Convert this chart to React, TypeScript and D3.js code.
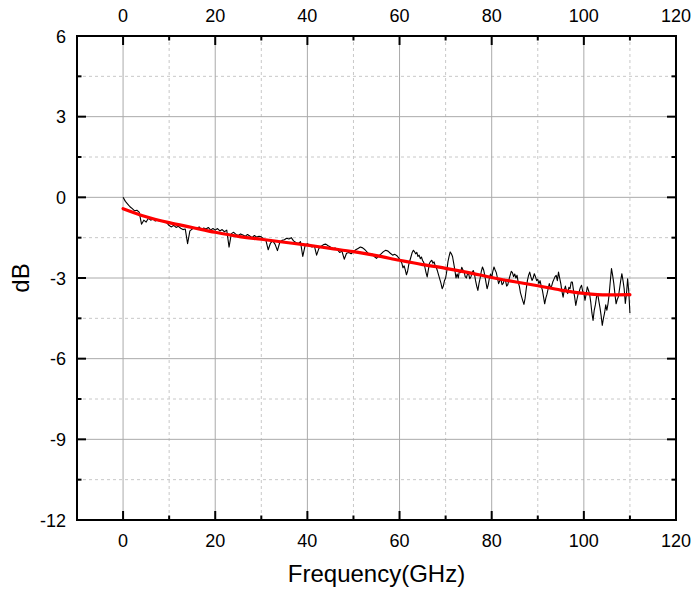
import React from "react";
import * as d3 from "d3";

const W = 694;
const H = 594;
const M = { left: 77, right: 694 - 676, top: 36, bottom: 594 - 520 };

const xMajorTicks = [0, 20, 40, 60, 80, 100, 120];
const xMinorTicks = [-10, 10, 30, 50, 70, 90, 110];
const yMajorTicks = [-12, -9, -6, -3, 0, 3, 6];
const yMinorTicks = [-10.5, -7.5, -4.5, -1.5, 1.5, 4.5];

// measured S21 (dB), 0 to 59.5 GHz every 0.5 GHz
const lowStart = 0;
const lowStep = 0.5;
const measuredLow = [
  0.0, -0.15, -0.25, -0.35, -0.42, -0.5, -0.48, -0.55, -1.0, -0.85,
  -0.92, -0.78, -0.85, -0.8, -0.88, -0.84, -0.9, -0.86, -0.92, -0.95,
  -1.05, -1.1, -1.04, -1.12, -1.08, -1.15, -1.2, -1.18, -1.72, -1.25,
  -1.18, -1.12, -1.16, -1.1, -1.2, -1.14, -1.18, -1.12, -1.22, -1.16,
  -1.22, -1.16, -1.25, -1.2, -1.28, -1.22, -1.85, -1.35, -1.3, -1.38,
  -1.42, -1.36, -1.4, -1.45, -1.38, -1.44, -1.5, -1.42, -1.48, -1.45,
  -1.47, -1.55, -1.6, -1.95, -1.7, -1.62, -1.75, -1.98, -1.68, -1.6,
  -1.58, -1.52, -1.55, -1.5, -1.62, -1.68, -1.72, -1.65, -2.2, -1.8,
  -1.72, -1.78, -1.85, -1.8, -2.15, -1.9, -1.82, -1.76, -1.74, -1.8,
  -1.85, -1.92, -1.88, -1.95, -2.05, -2.0, -2.3, -2.08, -2.05, -2.1,
  -2.02, -1.95, -1.9, -1.85, -1.88, -1.95, -2.05, -2.15, -2.1, -2.2,
  -2.27, -2.18, -2.1, -2.02, -1.97, -2.0, -2.08, -2.15, -2.12, -2.18,
];

// measured S21 (dB), 60 to 110 GHz every 0.25 GHz
const highStart = 60;
const highStep = 0.25;
const measuredHigh = [
  -2.3, -2.38, -2.45, -2.62, -2.55, -2.7, -2.88, -2.75, -2.5, -2.35,
  -2.2, -2.05, -1.97, -2.02, -2.1, -2.05, -2.2, -2.15, -2.28, -2.22,
  -2.35, -2.42, -2.6, -2.8, -2.96, -2.7, -2.45, -2.38, -2.34, -2.45,
  -2.4, -2.55, -2.62, -2.75, -2.9, -3.05, -3.2, -3.4, -3.3, -3.1,
  -3.0, -2.75, -2.4, -2.2, -2.03, -2.1, -2.2, -2.45, -2.7, -3.0,
  -2.85, -3.0, -2.72, -2.8, -2.6, -2.7, -2.75, -2.95, -3.0, -2.85,
  -2.85, -3.03, -2.95, -2.8, -2.72, -2.85, -3.1, -3.3, -3.46, -3.2,
  -3.0, -2.75, -2.59, -2.7, -2.9, -3.15, -3.4, -3.25, -3.0, -2.85,
  -3.0, -2.75, -2.59, -2.7, -2.8, -3.0, -3.21, -3.1, -3.05, -3.25,
  -3.2, -3.05, -3.1, -3.3, -3.25, -3.05, -2.9, -2.75, -2.8, -2.95,
  -2.85, -3.0, -2.9, -3.15, -3.3, -3.55, -3.7, -3.85, -3.98, -3.75,
  -3.4, -3.1, -2.9, -2.78, -2.95, -3.09, -3.0, -2.84, -2.95, -3.1,
  -3.05, -3.21, -3.1, -3.3, -3.45, -3.7, -3.96, -3.75, -3.6, -3.4,
  -3.21, -3.35, -3.3, -3.15, -3.05, -2.95, -2.9, -3.1, -2.78, -3.0,
  -3.21, -3.5, -3.71, -3.45, -3.3, -3.5, -3.58, -3.35, -3.4, -3.15,
  -3.15, -3.45, -3.7, -4.02, -3.8, -3.6, -3.5, -3.35, -3.27, -3.5,
  -3.55, -3.83, -3.6, -3.33, -3.45, -3.6, -3.9, -4.3, -4.58, -4.2,
  -4.0, -3.7, -3.58, -3.85, -4.1, -4.4, -4.76, -4.5, -4.3, -4.0,
  -4.2, -3.95, -3.6, -3.1, -2.65, -2.9, -3.2, -3.6, -3.96, -3.8,
  -3.7, -3.4, -3.1, -2.84, -3.1, -3.4, -3.95, -3.6, -3.03, -3.5,
  -4.3,
];

// fitted curve (dB) at these frequencies (GHz)
const fitFreq = [0, 5, 10, 15, 20, 25, 30, 35, 40, 45, 50, 55, 60, 65, 70, 75, 80, 85, 90, 95, 100, 105, 110];
const fitDb = [-0.42, -0.72, -0.94, -1.12, -1.3, -1.45, -1.56, -1.67, -1.78, -1.9, -2.02, -2.17, -2.34, -2.5, -2.64, -2.8, -2.98, -3.14, -3.29, -3.45, -3.57, -3.63, -3.62];

export default function App() {
  const x = d3.scaleLinear().domain([-10, 120]).range([M.left, W - M.right]);
  const y = d3.scaleLinear().domain([-12, 6]).range([H - M.bottom, M.top]);
  const x0 = M.left, x1 = W - M.right, y0 = M.top, y1 = H - M.bottom;

  const measPts: [number, number][] = [
    ...measuredLow.map((v, i) => [lowStart + i * lowStep, v] as [number, number]),
    ...measuredHigh.map((v, i) => [highStart + i * highStep, v] as [number, number]),
  ];
  const line = d3.line<[number, number]>().x((d) => x(d[0])).y((d) => y(d[1]));
  const fitLine = d3
    .line<[number, number]>()
    .x((d) => x(d[0]))
    .y((d) => y(d[1]))
    .curve(d3.curveMonotoneX);
  const fitPts: [number, number][] = fitFreq.map((f, i) => [f, fitDb[i]]);

  const font = "'Liberation Sans', Arial, sans-serif";
  const majLen = 9;
  const minLen = 4.5;

  return (
    <svg width={W} height={H} style={{ position: "absolute", left: 0, top: 0, background: "#fff" }}>
      {/* grid */}
      {xMinorTicks.map((t) => (
        <line key={"xg" + t} x1={x(t)} x2={x(t)} y1={y0} y2={y1} stroke="#c8c8c8" strokeDasharray="3,3" />
      ))}
      {yMinorTicks.map((t) => (
        <line key={"yg" + t} x1={x0} x2={x1} y1={y(t)} y2={y(t)} stroke="#c8c8c8" strokeDasharray="3,3" />
      ))}
      {xMajorTicks.map((t) => (
        <line key={"xG" + t} x1={x(t)} x2={x(t)} y1={y0} y2={y1} stroke="#aaaaaa" />
      ))}
      {yMajorTicks.map((t) => (
        <line key={"yG" + t} x1={x0} x2={x1} y1={y(t)} y2={y(t)} stroke="#aaaaaa" />
      ))}

      {/* data */}
      <path d={line(measPts) || ""} fill="none" stroke="#000" strokeWidth={1.1} strokeLinejoin="round" />
      <path d={fitLine(fitPts) || ""} fill="none" stroke="#ff0000" strokeWidth={3.2} strokeLinecap="round" />

      {/* frame */}
      <rect x={x0} y={y0} width={x1 - x0} height={y1 - y0} fill="none" stroke="#000" strokeWidth={2} />

      {/* ticks */}
      {xMajorTicks.map((t) => (
        <g key={"xt" + t}>
          <line x1={x(t)} x2={x(t)} y1={y1} y2={y1 - majLen} stroke="#000" strokeWidth={2} />
          <line x1={x(t)} x2={x(t)} y1={y0} y2={y0 + majLen} stroke="#000" strokeWidth={2} />
          <text x={x(t)} y={y1 + 27} textAnchor="middle" fontFamily={font} fontSize={18}>{t}</text>
          <text x={x(t)} y={y0 - 14} textAnchor="middle" fontFamily={font} fontSize={18}>{t}</text>
        </g>
      ))}
      {xMinorTicks.map((t) => (
        <g key={"xm" + t}>
          <line x1={x(t)} x2={x(t)} y1={y1} y2={y1 - minLen} stroke="#000" strokeWidth={2} />
          <line x1={x(t)} x2={x(t)} y1={y0} y2={y0 + minLen} stroke="#000" strokeWidth={2} />
        </g>
      ))}
      {yMajorTicks.map((t) => (
        <g key={"yt" + t}>
          <line x1={x0} x2={x0 + majLen} y1={y(t)} y2={y(t)} stroke="#000" strokeWidth={2} />
          <line x1={x1} x2={x1 - majLen} y1={y(t)} y2={y(t)} stroke="#000" strokeWidth={2} />
          <text x={x0 - 11} y={y(t) + 6.5} textAnchor="end" fontFamily={font} fontSize={18}>{t}</text>
        </g>
      ))}
      {yMinorTicks.map((t) => (
        <g key={"ym" + t}>
          <line x1={x0} x2={x0 + minLen} y1={y(t)} y2={y(t)} stroke="#000" strokeWidth={2} />
          <line x1={x1} x2={x1 - minLen} y1={y(t)} y2={y(t)} stroke="#000" strokeWidth={2} />
        </g>
      ))}

      {/* titles */}
      <text x={(x0 + x1) / 2} y={582} textAnchor="middle" fontFamily={font} fontSize={24}>Frequency(GHz)</text>
      <text transform={`translate(29,${(y0 + y1) / 2}) rotate(-90)`} textAnchor="middle" fontFamily={font} fontSize={24}>dB</text>
    </svg>
  );
}
